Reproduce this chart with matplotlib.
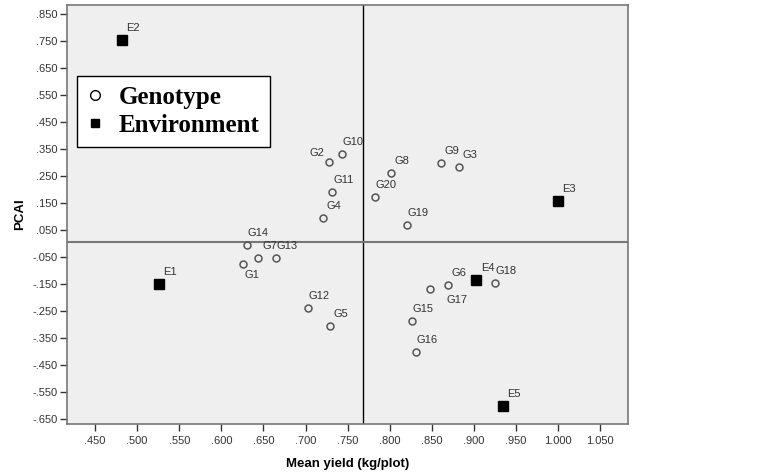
import numpy as np
import matplotlib.pyplot as plt
from matplotlib.lines import Line2D
from matplotlib.ticker import FixedLocator, FuncFormatter

# Genotipos (rendimiento medio, PCA1)
gen_names = ['G1', 'G2', 'G3', 'G4', 'G5', 'G6', 'G7', 'G8', 'G9', 'G10',
             'G11', 'G12', 'G13', 'G14', 'G15', 'G16', 'G17', 'G18', 'G19', 'G20']
gen_yield = [0.626, 0.728, 0.882, 0.721, 0.729, 0.869, 0.644, 0.801, 0.861, 0.743,
             0.732, 0.703, 0.665, 0.631, 0.827, 0.831, 0.848, 0.925, 0.821, 0.783]
gen_pca = [-0.077, 0.302, 0.283, 0.093, -0.306, -0.155, -0.054, 0.262, 0.298, 0.330,
           0.190, -0.238, -0.054, -0.006, -0.286, -0.401, -0.170, -0.147, 0.067, 0.173]

# Ambientes
env_names = ['E1', 'E2', 'E3', 'E4', 'E5']
env_yield = [0.526, 0.482, 1.000, 0.903, 0.934]
env_pca = [-0.149, 0.753, 0.158, -0.136, -0.601]

# Lineas de referencia (medias)
mean_yield = 0.768
mean_pca = 0.005

x_ticks = [0.45, 0.50, 0.55, 0.60, 0.65, 0.70, 0.75, 0.80, 0.85, 0.90, 0.95, 1.00, 1.05]
y_ticks = [0.85, 0.75, 0.65, 0.55, 0.45, 0.35, 0.25, 0.15, 0.05,
           -0.05, -0.15, -0.25, -0.35, -0.45, -0.55, -0.65]

# desplazamiento de etiquetas en pixeles (por defecto arriba a la derecha)
label_offset = {'G2': (-12, 9), 'G1': (9, -11), 'G17': (27, -11)}
default_offset = (11, 12)


def spss_fmt(v, pos=None):
    s = f'{v:.3f}'
    if s.startswith('0.'):
        s = s[1:]
    elif s.startswith('-0.'):
        s = '-' + s[2:]
    return s


plt.rcParams['font.family'] = ['Liberation Sans', 'DejaVu Sans']

fig = plt.figure(figsize=(7.64, 4.75), dpi=100)
ax = fig.add_axes([67 / 764, 51 / 475, 561 / 764, 419 / 475])
ax.set_facecolor('#efefef')

ax.set_xlim(0.4167, 1.083)
ax.set_ylim(-0.6685, 0.883)

ax.axvline(mean_yield, color='black', lw=1.0, zorder=1)
ax.axhline(mean_pca, color='#777777', lw=1.5, zorder=1)

ax.plot(gen_yield, gen_pca, 'o', ms=5, mfc='none', mec='#555555', mew=1.1,
        linestyle='none', zorder=3)
ax.plot(env_yield, env_pca, 's', ms=7, color='black', linestyle='none', zorder=3)

for name, x, y in list(zip(gen_names, gen_yield, gen_pca)) + list(zip(env_names, env_yield, env_pca)):
    dx, dy = label_offset.get(name, default_offset)
    ax.annotate(name, (x, y), xytext=(dx * 0.72, dy * 0.72), textcoords='offset points',
                ha='center', va='center', fontsize=8, color='#333333', zorder=4)

ax.xaxis.set_major_locator(FixedLocator(x_ticks))
ax.yaxis.set_major_locator(FixedLocator(y_ticks))
ax.xaxis.set_major_formatter(FuncFormatter(spss_fmt))
ax.yaxis.set_major_formatter(FuncFormatter(spss_fmt))
ax.tick_params(labelsize=8, colors='#333333', length=5, width=1, direction='out')
ax.tick_params(axis='x', pad=4)
ax.tick_params(axis='y', pad=2)

for sp in ax.spines.values():
    sp.set_color('#777777')
    sp.set_linewidth(1.2)

ax.set_xlabel('Mean yield (kg/plot)', fontsize=9.5, fontweight='bold', labelpad=8)
ax.set_ylabel('PCAI', fontsize=9.5, fontweight='bold', labelpad=4)

handles = [Line2D([], [], marker='o', ls='none', ms=7, mfc='none', mec='black', mew=1.0),
           Line2D([], [], marker='s', ls='none', ms=6, color='black')]
leg = ax.legend(handles, ['Genotype', 'Environment'], loc='upper left',
                bbox_to_anchor=(0.017, 0.831), borderaxespad=0, fancybox=False,
                framealpha=1, edgecolor='black', handletextpad=0.6, handlelength=0.7,
                labelspacing=0.2, borderpad=0.4,
                prop={'family': 'Liberation Serif', 'weight': 'bold', 'size': 18})
leg.get_frame().set_linewidth(1.0)

fig.savefig('out.png', dpi=100)
